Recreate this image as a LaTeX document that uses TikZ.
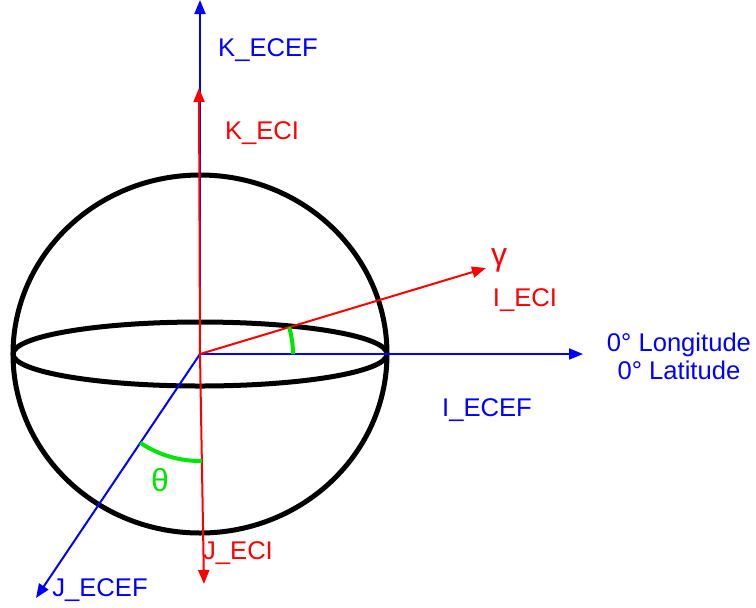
\documentclass[tikz,border=0pt]{standalone}
\usepackage{fontspec}
\setmainfont{Liberation Sans}
\usetikzlibrary{arrows.meta, angles}
\definecolor{ecefblue}{RGB}{0,0,255}
\definecolor{ecired}{RGB}{255,0,0}
\definecolor{anglegreen}{RGB}{0,230,0}

\begin{document}
\begin{tikzpicture}[x=0.5pt, y=-0.5pt, line join=round,
    font=\fontsize{12.8}{14}\selectfont,
    ecef/.style={ecefblue, line width=1pt, -{Triangle[length=7pt, width=5.5pt]}},
    eci/.style={ecired, line width=1pt, -{Triangle[length=7pt, width=5.5pt]}},
    marker/.style={draw=anglegreen, line width=2pt},
    greek/.style={font=\fontsize{16}{18}\selectfont}]

    \useasboundingbox (0,0) rectangle (756,607);

    % origin and axis end points (picture pixels, y downwards)
    \coordinate (O)      at (200, 354);
    \coordinate (KECEF)  at (200, 0);
    \coordinate (IECEF)  at (583, 354);
    \coordinate (JECEF)  at (36, 598);
    \coordinate (KECI)   at (199, 88);
    \coordinate (IECI)   at (486, 268);
    \coordinate (JECI)   at (204, 584);

    % Earth with its equator
    \draw[line width=2.5pt] (O) ellipse [x radius=93.5pt, y radius=89.5pt];
    \draw[line width=2.5pt] (O) ellipse [x radius=93.5pt, y radius=16pt];

    % ECEF frame (blue), then ECI frame (red) on top
    \draw[ecef] (O) -- (KECEF);
    \draw[ecef] (O) -- (IECEF);
    \draw[ecef] (O) -- (JECEF);
    \draw[eci] (O) -- (KECI);
    \draw[eci] (O) -- (IECI);
    \draw[eci] (O) -- (JECI);

    % angle markers
    \pic[marker, angle radius=46.5pt] {angle = IECEF--O--IECI};
    \pic[marker, angle radius=53.5pt] {angle = JECEF--O--JECI};

    % labels
    \node[ecefblue] (lKECEF) at (268, 50)  {K\_ECEF};
    \node[ecired]   (lKECI)  at (262, 133) {K\_ECI};
    \node[ecired, greek] (lgamma) at (499, 260) {γ};
    \node[ecired]   (lIECI)  at (525, 300) {I\_ECI};
    \node[ecefblue, align=center] (lzero) at (679, 356) {0° Longitude\\0° Latitude};
    \node[ecefblue] (lIECEF) at (487, 410) {I\_ECEF};
    \node[anglegreen, greek] (ltheta) at (160, 480) {θ};
    \node[ecired]   (lJECI)  at (238, 553) {J\_ECI};
    \node[ecefblue] (lJECEF) at (100, 590) {J\_ECEF};

\end{tikzpicture}
\end{document}
